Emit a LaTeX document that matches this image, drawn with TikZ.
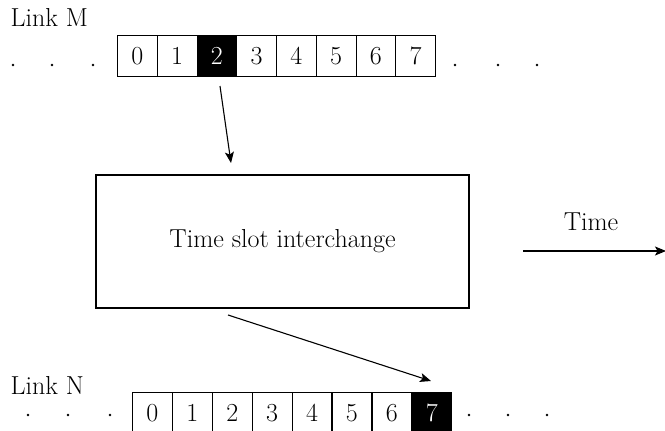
\documentclass[tikz,border=0pt]{standalone}
\usepackage{fontspec}
\usetikzlibrary{arrows.meta}
\begin{document}
\begin{tikzpicture}[x=1pt,y=-1pt,
    every node/.style={font=\fontsize{26}{30}\selectfont},
    cell/.style={draw,line width=1.1pt,anchor=north west,inner sep=0pt,minimum width=39.8pt,minimum height=41pt},
    hot/.style={fill=black,text=white},
    link/.style={line width=1.1pt,-{Stealth[length=11pt,width=9pt,inset=2.5pt]}}]
    \useasboundingbox (0,0) rectangle (665,431);
    %
    \node[anchor=base west] (lm) at (7,27) {Link M};
    \foreach \i in {0,1,3,4,5,6,7}
        \node[cell] (m\i) at (117+\i*39.75,35) {\i};
    \node[cell,hot] (m2) at (117+2*39.75,35) {2};
    \foreach \x in {13,52,93,455,498,537}
        \fill (\x,65) circle (1.3pt);
    %
    \node[draw,line width=1.1pt,minimum width=373pt,minimum height=133pt] (tsi) at (282.5,241.5) {Time slot interchange};
    %
    \coordinate (in1) at (220,86);
    \coordinate (in2) at (231,163);
    \draw[link] (in1) -- (in2);
    \coordinate (out1) at (228,315);
    \coordinate (out2) at (431,381);
    \draw[link] (out1) -- (out2);
    %
    \coordinate (t0) at (523,251);
    \coordinate (t1) at (666,251);
    \draw[link] (t0) -- (t1);
    \node[anchor=base] (tl) at (591,230) {Time};
    %
    \node[anchor=base west] (ln) at (7,394) {Link N};
    \foreach \i in {0,...,6}
        \node[cell] (n\i) at (132+\i*39.9,392) {\i};
    \node[cell,hot] (n7) at (132+7*39.9,392) {7};
    \foreach \x in {28,68,110,469,508,547}
        \fill (\x,415) circle (1.3pt);
    %
\end{tikzpicture}
\end{document}
